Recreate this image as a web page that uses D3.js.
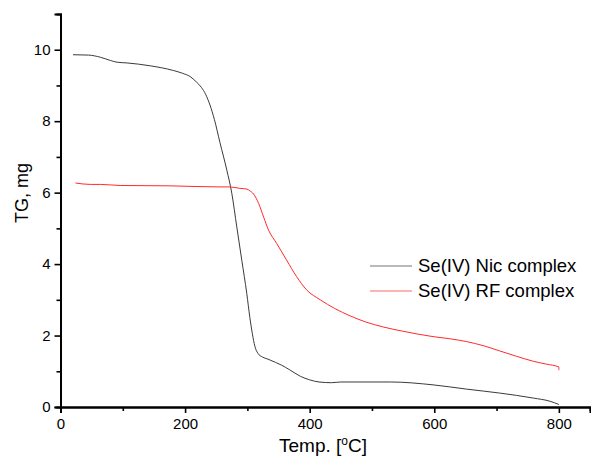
<!DOCTYPE html>
<html>
<head>
<meta charset="utf-8">
<script src="https://cdn.jsdelivr.net/npm/d3@7"></script>
<style>
  body { margin: 0; background: #fff; }
  svg { font-family: "Liberation Sans", Arial, sans-serif; }
</style>
</head>
<body>
<div id="chart"></div>
<script>
// temperature (°C) / mass (mg)
const nicTemp = [20, 45, 64, 80, 91, 107, 144, 181, 196, 208, 218, 226, 233, 240, 247, 256, 267, 275, 283, 291, 299, 304, 308, 312, 317, 324, 333, 345, 355, 368, 385, 400, 415, 435, 450, 530, 598, 652, 705, 759, 786, 800];
const nicMass = [9.86, 9.85, 9.79, 9.70, 9.65, 9.63, 9.55, 9.42, 9.34, 9.25, 9.10, 8.95, 8.75, 8.45, 8.05, 7.40, 6.63, 5.98, 5.04, 4.11, 3.18, 2.50, 2.05, 1.70, 1.50, 1.40, 1.34, 1.25, 1.17, 1.04, 0.86, 0.76, 0.70, 0.68, 0.70, 0.70, 0.62, 0.50, 0.39, 0.25, 0.16, 0.07];

const rfTemp = [24, 48, 64, 96, 176, 256, 272, 288, 299, 304, 310, 318, 326, 334, 347, 363, 379, 395, 417, 440, 465, 490, 518, 550, 598, 625, 652, 680, 705, 732, 759, 780, 800, 800];
const rfMass = [6.27, 6.23, 6.23, 6.20, 6.19, 6.16, 6.16, 6.12, 6.10, 6.05, 5.96, 5.70, 5.32, 4.95, 4.58, 4.11, 3.65, 3.28, 3.00, 2.76, 2.55, 2.38, 2.24, 2.12, 1.97, 1.91, 1.83, 1.71, 1.57, 1.42, 1.28, 1.20, 1.12, 1.03];

const series = [
  { name: "Se(IV) Nic complex", color: "#3a3a3a", x: nicTemp, y: nicMass },
  { name: "Se(IV) RF complex", color: "#ff2a2a", x: rfTemp, y: rfMass }
];

const xTicks = [0, 200, 400, 600, 800];
const yTicks = [0, 2, 4, 6, 8, 10];

const width = 591, height = 457;
const margin = { left: 60.5, right: 1, top: 14, bottom: 50 };

const svg = d3.select("#chart").append("svg")
  .attr("width", width)
  .attr("height", height);

const x = d3.scaleLinear().domain([0, 850]).range([margin.left, width - margin.right]);
const y = d3.scaleLinear().domain([0, 11]).range([height - margin.bottom, margin.top]);

const line = d3.line()
  .x(d => x(d[0]))
  .y(d => y(d[1]))
  .curve(d3.curveMonotoneX);

svg.append("g")
  .selectAll("path")
  .data(series)
  .join("path")
  .attr("fill", "none")
  .attr("stroke", d => d.color)
  .attr("stroke-width", 1)
  .attr("d", d => line(d.x.map((t, i) => [t, d.y[i]])));

// minor ticks
const xMinor = d3.range(100, 850, 200);
const yMinor = d3.range(1, 11, 2);

const xAxis = svg.append("g")
  .attr("transform", `translate(0,${y(0)})`);
xAxis.call(d3.axisBottom(x).tickValues(xMinor).tickSize(4).tickFormat(""));
xAxis.call(g => g.append("g").call(d3.axisBottom(x).tickValues(xTicks).tickSize(6).tickPadding(5)));

const yAxis = svg.append("g")
  .attr("transform", `translate(${x(0)},0)`);
yAxis.call(d3.axisLeft(y).tickValues(yMinor).tickSize(4).tickFormat(""));
yAxis.call(g => g.append("g").call(d3.axisLeft(y).tickValues(yTicks).tickSize(6).tickPadding(4)));

svg.selectAll(".domain").attr("stroke", "#000").attr("stroke-width", 2);
svg.selectAll(".tick line").attr("stroke", "#000").attr("stroke-width", 1.6);
svg.selectAll(".tick text")
  .attr("fill", "#000")
  .style("font-size", "15px")
  .style("font-family", "'Liberation Sans', Arial, sans-serif");

// axis titles
const xt = svg.append("text")
  .attr("x", 323)
  .attr("y", 452)
  .attr("text-anchor", "middle")
  .style("font-size", "19px");
xt.append("tspan").text("Temp. [");
xt.append("tspan").attr("dy", -7).style("font-size", "12px").text("o");
xt.append("tspan").attr("dy", 7).text("C]");

svg.append("text")
  .attr("transform", "translate(28,193) rotate(-90)")
  .attr("text-anchor", "middle")
  .style("font-size", "18px")
  .text("TG, mg");

// legend
const legend = svg.append("g")
  .selectAll("g")
  .data(series)
  .join("g")
  .attr("transform", (d, i) => `translate(370,${266 + i * 25})`);
legend.append("line")
  .attr("x1", 0).attr("x2", 42)
  .attr("stroke", d => d.color)
  .attr("stroke-opacity", 0.7)
  .attr("stroke-width", 1);
legend.append("text")
  .attr("x", 48)
  .attr("dy", "0.35em")
  .style("font-size", "18.5px")
  .text(d => d.name);
</script>
</body>
</html>
